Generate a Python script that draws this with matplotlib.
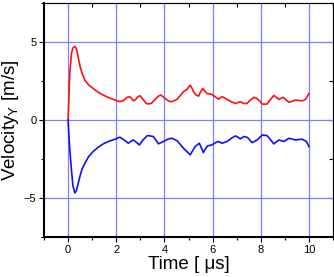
import matplotlib
matplotlib.use("Agg")
import matplotlib.pyplot as plt
from matplotlib.ticker import MultipleLocator

plt.rcParams.update({"font.family": ["Liberation Sans", "DejaVu Sans"], "mathtext.fontset": "custom",
                     "mathtext.rm": "Liberation Sans", "mathtext.it": "Liberation Sans"})

# red trace (positive)
t_red = [0, 0.03, 0.07, 0.14, 0.2, 0.28, 0.34, 0.4, 0.45, 0.5, 0.58, 0.7, 0.85, 1.04, 1.25, 1.46, 1.7,
         1.95, 2.15, 2.3, 2.45, 2.57, 2.64, 2.71, 2.8, 2.9, 2.99, 3.1, 3.24, 3.35, 3.47, 3.6, 3.75,
         3.85, 4.03, 4.17, 4.31, 4.52, 4.65, 4.79, 4.93, 5.0, 5.07, 5.14, 5.21, 5.32, 5.42, 5.5,
         5.6, 5.68, 5.77, 5.97, 6.11, 6.25, 6.39, 6.5, 6.6, 6.8, 6.95, 7.05, 7.15, 7.29, 7.43,
         7.57, 7.71, 7.82, 7.92, 8.06, 8.26, 8.4, 8.54, 8.65, 8.75, 8.93, 9.05, 9.17, 9.3, 9.44,
         9.6, 9.72, 9.86, 10.0]
v_red = [0, 1.3, 3.0, 4.27, 4.62, 4.72, 4.58, 4.2, 3.78, 3.42, 3.0, 2.55, 2.25, 2.02, 1.78, 1.6, 1.42,
         1.28, 1.17, 1.25, 1.45, 1.49, 1.38, 1.23, 1.3, 1.5, 1.55, 1.35, 1.06, 1.03, 1.08, 1.3, 1.53,
         1.6, 1.38, 1.22, 1.17, 1.32, 1.55, 1.81, 1.96, 2.1, 2.23, 2.05, 1.81, 1.6, 1.53, 1.8,
         2.02, 1.85, 1.7, 1.64, 1.49, 1.34, 1.49, 1.42, 1.32, 1.15, 1.06, 1.12, 1.17, 1.06, 1.06,
         1.28, 1.45, 1.4, 1.28, 1.02, 1.02, 1.3, 1.58, 1.45, 1.32, 1.45, 1.3, 1.13, 1.2, 1.28,
         1.25, 1.23, 1.32, 1.7]

# blue trace (negative)
t_blue = [0, 0.03, 0.07, 0.14, 0.2, 0.28, 0.34, 0.4, 0.49, 0.58, 0.7, 0.85, 1.04, 1.25, 1.46,
          1.7, 1.95, 2.15, 2.3, 2.5, 2.6, 2.71, 2.85, 2.96, 3.1, 3.29, 3.4, 3.54, 3.65, 3.75,
          3.96, 4.15, 4.31, 4.52, 4.65, 4.79, 4.95, 5.07, 5.18, 5.28, 5.45, 5.55, 5.62, 5.7,
          5.79, 5.97, 6.12, 6.25, 6.39, 6.6, 6.8, 6.95, 7.05, 7.15, 7.31, 7.45, 7.64, 7.85,
          8.06, 8.26, 8.4, 8.54, 8.75, 8.96, 9.17, 9.3, 9.44, 9.72, 9.9, 10.0]
v_blue = [0, -0.9, -1.9, -3.19, -4.2, -4.68, -4.55, -4.2, -3.62, -3.15, -2.77, -2.35, -2.02,
          -1.75, -1.53, -1.36, -1.23, -1.1, -1.25, -1.49, -1.38, -1.28, -1.45, -1.6, -1.3, -1.0,
          -1.02, -1.06, -1.3, -1.53, -1.38, -1.22, -1.17, -1.32, -1.55, -1.81, -2.05, -2.23,
          -1.95, -1.7, -1.49, -1.85, -2.09, -1.85, -1.66, -1.6, -1.45, -1.38, -1.49, -1.38,
          -1.15, -1.02, -1.1, -1.21, -1.06, -1.12, -1.45, -1.28, -0.96, -1.0, -1.25, -1.53,
          -1.28, -1.38, -1.17, -1.22, -1.28, -1.23, -1.38, -1.7]

fig = plt.figure(figsize=(3.34, 2.77), dpi=100)
ax = fig.add_axes([44/334, 40/277, 289/334, 234/277])
ax.plot(t_red, v_red, color="#ff1010", lw=1.2)
ax.plot(t_blue, v_blue, color="#1010ff", lw=1.2)
ax.set_xlim(-1, 11); ax.set_ylim(-7.5, 7.5)
ax.set_xticks([0, 2, 4, 6, 8, 10]); ax.set_yticks([-5, 0, 5])
ax.xaxis.set_minor_locator(MultipleLocator(1)); ax.yaxis.set_minor_locator(MultipleLocator(2.5))
ax.grid(True, which="major", color="#8080ff", lw=0.9)
ax.set_axisbelow(True)
ax.tick_params(which="both", direction="out", labelsize=8, pad=2, width=0.8)
ax.tick_params(which="major", length=3.5); ax.tick_params(which="minor", length=2.5)
for s in ("left", "bottom"):
    ax.spines[s].set_linewidth(1.5)
for s in ("top", "right"):
    ax.spines[s].set_linewidth(0.8)
top = ax.secondary_xaxis("top"); right = ax.secondary_yaxis("right")
top.set_xticks([0, 2, 4, 6, 8, 10]); right.set_yticks([-5, 0, 5])
top.xaxis.set_minor_locator(MultipleLocator(1)); right.yaxis.set_minor_locator(MultipleLocator(2.5))
for sec in (top, right):
    sec.tick_params(which="both", direction="in", labelleft=False, labelright=False,
                    labeltop=False, labelbottom=False, width=0.8)
    sec.tick_params(which="major", length=4); sec.tick_params(which="minor", length=3)
ax.set_xlabel("Time [ μs]", fontsize=13.5, labelpad=1)
ax.set_ylabel("Velocity$_\\mathregular{Y}$ [m/s]", fontsize=13.5, labelpad=2)
fig.savefig("out.png", dpi=100)
